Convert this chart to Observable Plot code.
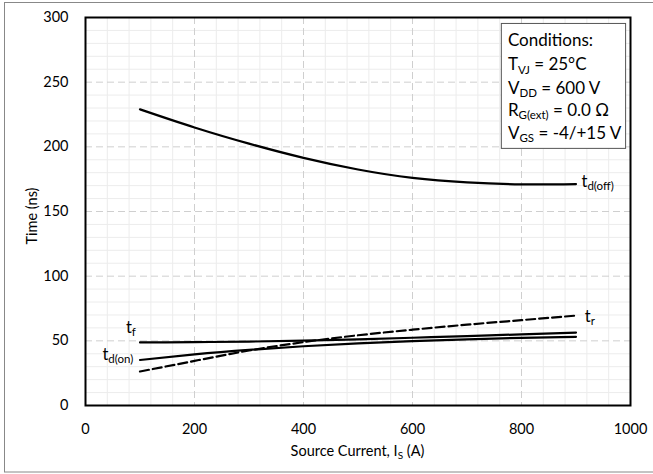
<!DOCTYPE html>
<html>
<head>
<meta charset="utf-8">
<script src="https://cdn.jsdelivr.net/npm/d3@7"></script>
<script src="https://cdn.jsdelivr.net/npm/@observablehq/plot@0.6"></script>
<style>
  html, body { margin: 0; padding: 0; background: white; }
  svg { display: block; }
</style>
</head>
<body>
<div id="chart"></div>
<script>
// ---- data ----
const currents = [100, 200, 300, 400, 500, 600, 700, 800, 900];
const tdOff = [229, 215, 202.5, 191.5, 182.5, 176, 172.5, 171, 171.2];
const tF    = [48.8, 49, 49.4, 50.2, 51.2, 52.4, 53.7, 55, 56.4];
const tdOn  = [35.2, 39.5, 43, 45.8, 48, 49.8, 51.2, 52.3, 53.1];
const tR    = [26.3, 34.5, 42.5, 49, 54.3, 58.6, 62.5, 66, 69.5];
const xTicks = [0, 200, 400, 600, 800, 1000];
const yTicks = [0, 50, 100, 150, 200, 250, 300];
const seriesNames = ["td(off)", "tf", "td(on)", "tr"];
const labelMain = ["t", "t", "t", "t"];
const labelSub  = ["d(off)", "f", "d(on)", "r"];
const labelX = [911, 75, 32, 917];
const labelY = [168.8, 55.7, 34.8, 64.2];
const conditionLines = [
  ["Conditions:", "", ""],
  ["T", "VJ", " = 25°C"],
  ["V", "DD", " = 600 V"],
  ["R", "G(ext)", " = 0.0 Ω"],
  ["V", "GS", " = -4/+15 V"]
];

const seriesValues = [tdOff, tF, tdOn, tR];
const rows = [];
seriesNames.forEach((name, i) => {
  currents.forEach((c, j) => rows.push({name, x: c, y: seriesValues[i][j]}));
});

const xMinor = d3.range(0, 1001, 40).filter(v => v % 200 !== 0);
const yMinor = d3.range(0, 301, 10).filter(v => v % 50 !== 0);

const FONT = "Lato, 'Open Sans', sans-serif";

const plot = Plot.plot({
  width: 653,
  height: 474,
  marginLeft: 85,
  marginRight: 23,
  marginTop: 17,
  marginBottom: 69,
  style: {fontFamily: FONT, fontSize: "14.5px", color: "#000", background: "white", overflow: "visible"},
  x: {domain: [0, 1000]},
  y: {domain: [0, 300]},
  marks: [
    Plot.ruleX(xMinor, {stroke: "#ececec", strokeWidth: 1}),
    Plot.ruleY(yMinor, {stroke: "#ececec", strokeWidth: 1}),
    Plot.ruleX(xTicks.filter(v => v > 0 && v < 1000), {stroke: "#cfcfcf", strokeWidth: 1, strokeDasharray: "7,4"}),
    Plot.ruleY(yTicks.filter(v => v > 0 && v < 300), {stroke: "#cfcfcf", strokeWidth: 1, strokeDasharray: "7,4"}),
    Plot.axisX({ticks: xTicks, tickSize: 0, tickPadding: 18, label: null, fontSize: 14.5, tickFormat: d3.format("d")}),
    Plot.axisY({ticks: yTicks, tickSize: 0, tickPadding: 17, label: null, fontSize: 14.5, tickFormat: d3.format("d")}),
    Plot.line(rows.filter(d => d.name !== "tr"), {x: "x", y: "y", z: "name", stroke: "black", strokeWidth: 2.2, curve: "natural"}),
    Plot.line(rows.filter(d => d.name === "tr"), {x: "x", y: "y", stroke: "black", strokeWidth: 2.2, curve: "natural", strokeDasharray: "9,4"}),
    Plot.frame({stroke: "black", strokeWidth: 2})
  ]
});

const svg = d3.select(plot);
const sx = plot.scale("x").apply;
const sy = plot.scale("y").apply;

function addSub(sel, main, sub, rest, size, subSize, shift) {
  sel.append("tspan").attr("font-size", size).text(main);
  if (sub) sel.append("tspan").attr("font-size", subSize).attr("dy", shift).text(sub);
  if (rest) sel.append("tspan").attr("font-size", size).attr("dy", sub ? -shift : 0).text(rest);
}

// outer border
svg.append("rect").attr("x", 4.5).attr("y", 2.5).attr("width", 660).attr("height", 469.5)
  .attr("fill", "none").attr("stroke", "#888").attr("stroke-width", 1);

// axis titles
const xt = svg.append("text").attr("x", (sx(0) + sx(1000)) / 2).attr("y", 456)
  .attr("text-anchor", "middle").attr("font-family", FONT).attr("fill", "#000");
addSub(xt, "Source Current, I", "S", " (A)", 14.5, 10, 3);

svg.append("text").attr("transform", `translate(33,${(sy(0) + sy(300)) / 2 + 5}) rotate(-90)`)
  .attr("text-anchor", "middle").attr("dominant-baseline", "middle")
  .attr("font-family", FONT).attr("font-size", 14.5).attr("fill", "#000").text("Time (ns)");

// curve labels
labelMain.forEach((m, i) => {
  const t = svg.append("text").attr("x", sx(labelX[i])).attr("y", sy(labelY[i]))
    .attr("text-anchor", "start").attr("font-family", FONT).attr("fill", "#000");
  addSub(t, m, labelSub[i], "", 16.5, 11.5, 3.5);
});

// conditions box
const bx0 = sx(763), bx1 = sx(991), by0 = sy(295.4), by1 = sy(198.8);
svg.append("rect").attr("x", bx0 + 0.5).attr("y", by0 + 0.5).attr("width", bx1 - bx0).attr("height", by1 - by0)
  .attr("fill", "white").attr("stroke", "#555").attr("stroke-width", 1);
const baseYs = [277.6, 259, 240.5, 223.5, 205.7];
conditionLines.forEach((ln, i) => {
  const t = svg.append("text").attr("x", sx(776)).attr("y", sy(baseYs[i]))
    .attr("text-anchor", "start").attr("font-family", FONT).attr("fill", "#000");
  addSub(t, ln[0], ln[1], ln[2], 17, 11.5, 3.5);
});

document.getElementById("chart").appendChild(plot);
</script>
</body>
</html>
